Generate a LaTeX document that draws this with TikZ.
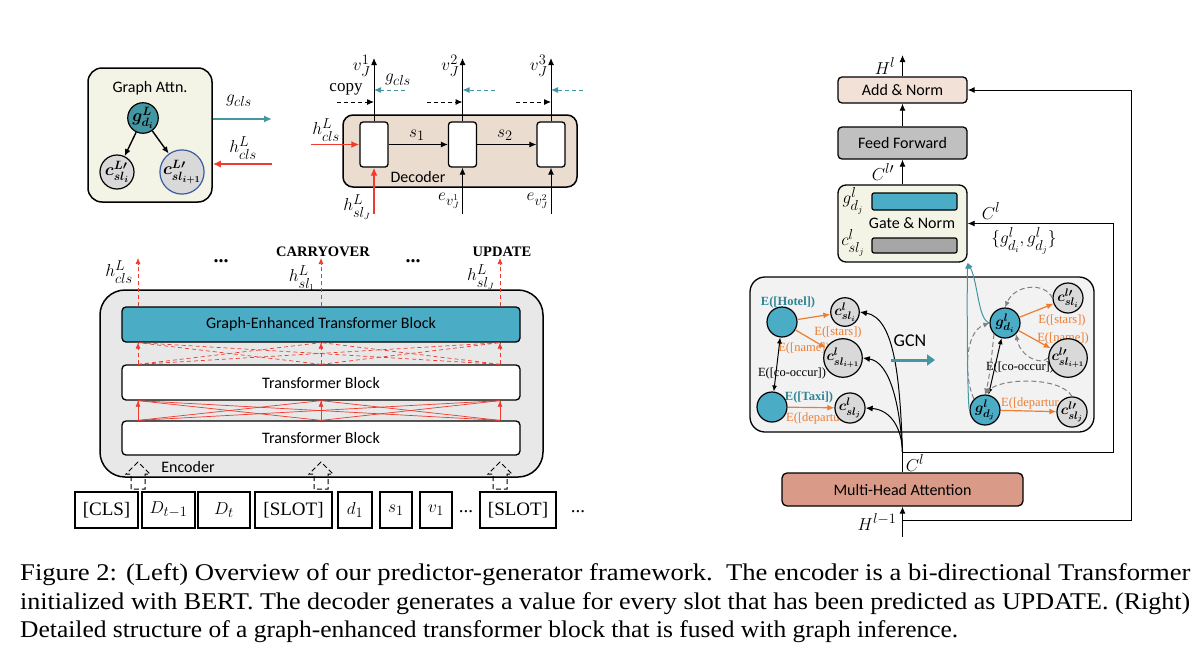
\documentclass[tikz,border=0pt]{standalone}
\usepackage{fontspec}
\usepackage{amsmath}
\usepackage{graphicx}
\setmainfont{Liberation Serif}
\newfontfamily\calib{Carlito}
\usetikzlibrary{arrows.meta,calc}
\definecolor{cream}{HTML}{F4F4E6}
\definecolor{tealn}{HTML}{4297A3}
\definecolor{tealtxt}{HTML}{2E8595}
\definecolor{decfill}{HTML}{EBDCD0}
\definecolor{encfill}{HTML}{E8E8E8}
\definecolor{geblue}{HTML}{4BACC6}
\definecolor{addfill}{HTML}{F2E1D6}
\definecolor{fffill}{HTML}{C0C0C0}
\definecolor{bargray}{HTML}{A6A6A6}
\definecolor{gcnfill}{HTML}{F2F2F2}
\definecolor{orng}{HTML}{ED7D31}
\definecolor{mhafill}{HTML}{D99A88}
\definecolor{redl}{HTML}{F03A2E}
\definecolor{nodegray}{HTML}{D9D9D9}
\definecolor{bluering}{HTML}{3A5BA0}
\tikzset{
  blk/.style={draw, line width=1.3pt, rounded corners=4pt, inner sep=0pt},
  lbl/.style={font=\calib\fontsize{16}{18}\selectfont, inner sep=0pt},
  mth/.style={font=\fontsize{19}{21}\selectfont, inner sep=0pt},
  nmth/.style={font=\fontsize{18}{20}\selectfont, inner sep=0pt},
  smth/.style={font=\fontsize{15}{17}\selectfont, inner sep=0pt},
  arr/.style={line width=1pt, -{Latex[length=7pt,width=6pt]}},
  darr/.style={line width=1pt, dash pattern=on 4pt off 3pt, -{Latex[length=7pt,width=6pt]}},
  tdarr/.style={darr, draw=tealn},
  rarr/.style={draw=redl, line width=1.8pt, -{Latex[length=8pt,width=7pt]}},
  rthin/.style={draw=redl, line width=0.7pt},
  rdash/.style={draw=redl, line width=0.7pt, dash pattern=on 4pt off 3pt},
  onode/.style={circle, draw, line width=1.2pt, inner sep=0pt},
  cell/.style={draw, line width=1.3pt, rounded corners=3pt, fill=white, minimum width=28pt, minimum height=45pt, inner sep=0pt},
  tok/.style={draw, line width=1.6pt, minimum height=36pt, inner sep=0pt, font=\fontsize{19}{21}\selectfont},
  oarr/.style={draw=orng, line width=1.2pt, -{Latex[length=7pt,width=6pt]}},
  otxt/.style={text=orng, font=\fontsize{12.5}{14}\selectfont, inner sep=0pt},
  ttxt/.style={text=tealtxt, font=\bfseries\fontsize{12.5}{14}\selectfont, inner sep=0pt},
  btxt/.style={font=\fontsize{12.5}{14}\selectfont, inner sep=0pt},
  gdash/.style={draw=gray, line width=1pt, dash pattern=on 5pt off 3pt, -{Latex[length=6pt,width=5pt]}},
  dbl/.style={line width=1pt, {Latex[length=6pt,width=5pt]}-{Latex[length=6pt,width=5pt]}},
  tarr/.style={draw=tealn, line width=1pt, -{Latex[length=6pt,width=5pt]}},
  captxt/.style={anchor=west, inner sep=0pt, font=\fontsize{24}{28}\selectfont},
  dots/.style={font=\bfseries\fontsize{20}{22}\selectfont, inner sep=0pt},
}
\begin{document}
\begin{tikzpicture}[x=1pt,y=-1pt]
\useasboundingbox[fill=white] (0,0) rectangle (1200,656);

% ===== Graph attention (top left)
\node[draw, line width=1.5pt, rounded corners=14pt, fill=cream, minimum width=124pt, minimum height=134pt] (ga) at (150,135) {};
\node[lbl] (gatitle) at (150,88) {Graph Attn.};
\node[onode, fill=tealn, minimum size=30pt, nmth] (gtop) at (143,118) {$\boldsymbol{g^L_{d_i}}$};
\node[onode, fill=nodegray, minimum size=34pt, nmth] (gl) at (117,172) {$\boldsymbol{c^{L\prime}_{sl_i}}$};
\node[onode, draw=bluering, fill=nodegray, minimum size=34pt, nmth] (gr) at (182,172) {$\boldsymbol{c^{L\prime}_{sl_{i+1}}}$};
\draw[arr, line width=1.4pt] (gtop) -- (gl);
\draw[arr, line width=1.4pt] (gtop) -- (gr);
\coordinate (gclsout) at (272,119);
\coordinate (hclsin) at (272,164);
\draw[line width=1.6pt, draw=tealn, -{Latex[length=8pt,width=7pt]}] (ga.east |- gclsout) -- (gclsout);
\draw[rarr] (hclsin) -- (ga.east |- hclsin);
\node[mth] (gclslbl) at (239,101) {$g_{cls}$};
\node[mth] (hclslbl) at (243,148) {$h^L_{cls}$};

% ===== Decoder
\node[draw, line width=1.5pt, rounded corners=10pt, fill=decfill, minimum width=234pt, minimum height=72pt] (dec) at (460,151) {};
\node[lbl] (declbl) at (418,177) {Decoder};
\node[cell] (c1) at (374,144.5) {};
\node[cell] (c2) at (462.5,144.5) {};
\node[cell] (c3) at (551,144.5) {};
\coordinate (o1) at (374,58);
\coordinate (o2) at (462.5,58);
\coordinate (o3) at (551,58);
\draw[arr] (c1.north) -- (o1);
\draw[arr] (c2.north) -- (o2);
\draw[arr] (c3.north) -- (o3);
\node[mth, anchor=east] (v1) at (371,66) {$v_J^1$};
\node[mth, anchor=east] (v2) at (459.5,66) {$v_J^2$};
\node[mth, anchor=east] (v3) at (548,66) {$v_J^3$};
\coordinate (k1) at (337,102);
\coordinate (k2) at (427,102);
\coordinate (k3) at (516,102);
\coordinate (t1) at (405,90);
\coordinate (t2) at (495,90);
\coordinate (t3) at (583,90);
\draw[darr] (k1) -- (c1.north |- k1);
\draw[darr] (k2) -- (c2.north |- k2);
\draw[darr] (k3) -- (c3.north |- k3);
\draw[tdarr] (t1) -- (c1.north |- t1);
\draw[tdarr] (t2) -- (c2.north |- t2);
\draw[tdarr] (t3) -- (c3.north |- t3);
\node[font=\fontsize{17}{19}\selectfont, inner sep=0pt] (copylbl) at (346,89) {copy};
\node[mth] (gcls2) at (398,80) {$g_{cls}$};
\draw[arr] (c1) -- (c2);
\draw[arr] (c2) -- (c3);
\node[mth] (s1l) at (417,135) {$s_1$};
\node[mth] (s2l) at (505,135) {$s_2$};
\coordinate (hc) at (311,144.5);
\draw[rarr] (hc) -- (c1.west);
\node[mth] (hcl) at (326,130) {$h^L_{cls}$};
\coordinate (hs) at (374,214);
\draw[rarr] (hs) -- (c1.south);
\node[mth, anchor=east] (hsl) at (371,207) {$h^L_{sl_J}$};
\coordinate (e1) at (462.5,214);
\coordinate (e2) at (551,214);
\draw[arr] (e1) -- (c2.south);
\draw[arr] (e2) -- (c3.south);
\node[mth, anchor=east] (e1l) at (460,201) {$e_{v_J^1}$};
\node[mth, anchor=east] (e2l) at (548.5,201) {$e_{v_J^2}$};

% ===== Encoder
\node[draw, line width=1.5pt, rounded corners=25pt, fill=encfill, minimum width=443pt, minimum height=187pt] (enc) at (321.5,383.5) {};
\node[blk, lbl, fill=geblue, minimum width=398pt, minimum height=35pt] (ge) at (321,324.5) {Graph-Enhanced Transformer Block};
\node[blk, lbl, fill=white, minimum width=398pt, minimum height=35pt] (tb2) at (321,382.5) {Transformer Block};
\node[blk, lbl, fill=white, minimum width=398pt, minimum height=34pt] (tb1) at (321,438) {Transformer Block};
\coordinate (ca) at (138,0);
\coordinate (cb) at (321,0);
\coordinate (cc) at (500,0);
\foreach \s in {ca,cb,cc}{\foreach \t in {ca,cb,cc}{
  \draw[rthin] (tb1.north -| \s) -- (tb2.south -| \t);
  \draw[rdash] (tb2.north -| \s) -- (ge.south -| \t);
}}
\foreach \s in {ca,cb,cc}{
  \draw[rthin, -{Latex[length=6pt,width=5pt]}] (tb1.north -| \s) -- (tb2.south -| \s);
  \draw[rdash, -{Latex[length=6pt,width=5pt]}] (tb2.north -| \s) -- (ge.south -| \s);
}
\coordinate (ta) at (138,258);
\coordinate (tb) at (321,258);
\coordinate (tc) at (500,258);
\draw[rdash, -{Latex[length=6pt,width=5pt]}] (ge.north -| ta) -- (ta);
\draw[rdash, -{Latex[length=6pt,width=5pt]}] (ge.north -| tb) -- (tb);
\draw[rdash, -{Latex[length=6pt,width=5pt]}] (ge.north -| tc) -- (tc);
\node[mth] (hL1) at (119,272) {$h^L_{cls}$};
\node[mth] (hL2) at (302,278) {$h^L_{sl_1}$};
\node[mth] (hL3) at (481,277) {$h^L_{sl_J}$};
\node[font=\bfseries\fontsize{14.5}{16}\selectfont, inner sep=0pt] (carry) at (323,252) {CARRYOVER};
\node[font=\bfseries\fontsize{14.5}{16}\selectfont, inner sep=0pt] (upd) at (502,252) {UPDATE};
\node[dots] (dd1) at (221,261) {...};
\node[dots] (dd2) at (413,261) {...};
\node[lbl] (enclbl) at (188,467) {Encoder};
\foreach \cx in {138,321,500}{
  \draw[line width=1pt, dash pattern=on 5pt off 3pt] (\cx-7,489) -- (\cx-7,474) -- (\cx-12,474) -- (\cx,462) -- (\cx+12,474) -- (\cx+7,474) -- (\cx+7,489) -- cycle;
}

% ===== Tokens
\node[tok, minimum width=63pt] (tkcls) at (106.5,510) {[CLS]};
\node[tok, minimum width=53pt] (tkd1) at (168.5,510) {$D_{t-1}$};
\node[tok, minimum width=52pt] (tkd2) at (224,510) {$D_t$};
\node[tok, minimum width=77pt] (tkslot1) at (293.5,510) {[SLOT]};
\node[tok, minimum width=34pt] (tkdd) at (355,510) {$d_1$};
\node[tok, minimum width=32pt] (tkss) at (396,510) {$s_1$};
\node[tok, minimum width=32pt] (tkvv) at (436,510) {$v_1$};
\node[font=\fontsize{19}{21}\selectfont, inner sep=0pt] (tkdots1) at (466,512) {...};
\node[tok, minimum width=76pt] (tkslot2) at (518,510) {[SLOT]};
\node[font=\fontsize{19}{21}\selectfont, inner sep=0pt] (tkdots2) at (578,512) {...};

% ===== Right: transformer block
\node[blk, lbl, fill=addfill, minimum width=129pt, minimum height=26pt] (addn) at (902.5,90) {Add \& Norm};
\node[blk, lbl, fill=fffill, minimum width=129pt, minimum height=32pt] (ff) at (902.5,143) {Feed Forward};
\node[blk, rounded corners=8pt, fill=cream, minimum width=129pt, minimum height=77pt] (gate) at (902.5,223.5) {};
\node[lbl] (gatelbl) at (912,223) {Gate \& Norm};
\node[draw, line width=1.2pt, rounded corners=2pt, fill=geblue, minimum width=85pt, minimum height=17pt, inner sep=0pt] (bbar) at (914.5,201.5) {};
\node[draw, line width=1.2pt, rounded corners=2pt, fill=bargray, minimum width=85pt, minimum height=15pt, inner sep=0pt] (gbar) at (914.5,245.5) {};
\node[mth] (gdjl) at (853,201) {$g^l_{d_j}$};
\node[mth] (csjl) at (853,243) {$c^l_{sl_j}$};
\coordinate (hltop) at (902.5,55);
\draw[arr] (addn.north) -- (hltop);
\node[mth] (hll) at (885,66) {$H^l$};
\draw[arr] (ff.north) -- (addn.south);
\draw[arr] (gate.north) -- (ff.south);
\node[mth] (clp) at (883,172) {$C^{l\prime}$};

% GCN box
\node[draw, line width=1.3pt, rounded corners=15pt, fill=gcnfill, minimum width=344pt, minimum height=155pt] (gcn) at (922,354.5) {};
\node[blk, lbl, rounded corners=5pt, fill=mhafill, minimum width=241pt, minimum height=33pt] (mha) at (902.5,489.5) {Multi-Head Attention};

% C^l routing
\coordinate (cbr) at (902.5,452);
\coordinate (cr) at (1113,452);
\draw[line width=1pt] (mha.north) -- (cbr);
\draw[arr] (cbr) -- (cr) -- (cr |- gate.east) -- (gate.east);
\node[mth] (cl1) at (915,463) {$C^l$};
\node[mth] (cl2) at (991,211) {$C^l$};
\node[mth] (gset) at (1024,241) {$\{g^l_{d_i}, g^l_{d_j}\}$};

% H^{l-1}
\coordinate (hlm) at (902.5,537);
\draw[arr] (hlm) -- (mha.south);
\coordinate (hl1) at (902.5,520);
\coordinate (hr) at (1131,520);
\draw[arr] (hl1) -- (hr) -- (hr |- addn.east) -- (addn.east);
\node[mth] (hlm1) at (877,522) {$H^{l-1}$};

% left graph labels (under nodes)
\node[ttxt] (lhot) at (788,302) {E([Hotel])};
\node[ttxt] (ltax) at (809,397) {E([Taxi])};
\node[otxt] (lstar) at (838,332) {E([stars])};
\node[otxt] (lname) at (804,348) {E([name])};
\node[btxt] (lco) at (792,373) {E([co-occur])};
\node[otxt, anchor=west] (ldep) at (786,418) {E([departu};

\node[onode, fill=geblue, minimum size=30pt] (hotel) at (782,322) {};
\node[onode, fill=geblue, minimum size=30pt] (taxi) at (772,407) {};
\node[onode, fill=nodegray, minimum size=27pt, smth] (lc1) at (845,312) {$\boldsymbol{c^l_{sl_i}}$};
\node[onode, fill=nodegray, minimum size=27pt, smth] (lc2) at (843,358) {$\boldsymbol{c^l_{sl_{i+1}}}$};
\node[onode, fill=nodegray, minimum size=27pt, smth] (lc3) at (850,408) {$\boldsymbol{c^l_{sl_j}}$};
\draw[oarr] (hotel) -- (lc1);
\draw[oarr] (hotel) -- (lc2);
\draw[oarr] (taxi) -- (lc3);
\draw[dbl] (hotel) -- (taxi);
\draw[arr] (cbr) .. controls (900,380) and (895,318) .. (lc1.east);
\draw[arr] (cbr) .. controls (900,405) and (890,362) .. (lc2.east);
\draw[arr] (cbr) .. controls (902,430) and (892,410) .. (lc3.east);

% GCN arrow
\node[lbl, font=\calib\fontsize{18}{20}\selectfont] (gcnl) at (910,341) {GCN};
\coordinate (gcna) at (891,360);
\coordinate (gcnb) at (935,360);
\draw[draw=tealn, line width=3pt, -{Triangle[length=8pt,width=11pt]}] (gcna) -- (gcnb);

% right graph labels
\node[otxt] (rstar) at (1062,320) {E([stars])};
\node[otxt] (rname) at (1063,338) {E([name])};
\node[btxt] (rco) at (1020,367) {E([co-occur])};
\node[otxt, anchor=west] (rdep) at (1001,403) {E([departur};

\node[onode, fill=geblue, minimum size=30pt, smth] (gdi) at (1005,323) {$\boldsymbol{g^l_{d_i}}$};
\node[onode, fill=geblue, minimum size=30pt, smth] (gdj) at (985,410) {$\boldsymbol{g^l_{d_j}}$};
\node[onode, fill=nodegray, minimum size=30pt, smth] (rc1) at (1068,298) {$\boldsymbol{c^{l\prime}_{sl_i}}$};
\node[onode, fill=nodegray, minimum size=30pt, smth] (rc2) at (1068,358) {$\boldsymbol{c^{l\prime}_{sl_{i+1}}}$};
\node[onode, fill=nodegray, minimum size=30pt, smth] (rc3) at (1072,412) {$\boldsymbol{c^{l\prime}_{sl_j}}$};
\draw[oarr] (gdi) -- (rc1);
\draw[oarr] (gdi) -- (rc2);
\draw[oarr] (gdj) -- (rc3);
\draw[dbl] (gdi) -- (gdj);
\draw[gdash] (rc1.west) .. controls (1045,282) and (1015,284) .. (gdi.north);
\draw[gdash] (rc2.west) .. controls (1040,366) and (1020,356) .. (gdi.south east);
\draw[gdash] (rc3.north) .. controls (1060,376) and (1000,378) .. (gdj.north);
\draw[gdash] (gdj.north west) .. controls (964,378) and (964,332) .. (gdi.west);
\draw[gdash] (gdi.south west) .. controls (992,352) and (990,376) .. (gdj.north);
\draw[tarr] (gdi.west) .. controls (978,320) and (978,282) .. (gate.south east);
\draw[tarr] (gdj.west) .. controls (967,400) and (967,282) .. (gate.south east);

% ===== Caption
\node[captxt] (cap1) at (20,575) {\resizebox{1170pt}{\height}{Figure 2: (Left) Overview of our predictor-generator framework.\ \ The encoder is a bi-directional Transformer}};
\node[captxt] (cap2) at (20,604) {\resizebox{1170pt}{\height}{initialized with BERT. The decoder generates a value for every slot that has been predicted as UPDATE. (Right)}};
\node[captxt] (cap3) at (20,632) {\resizebox{938pt}{\height}{Detailed structure of a graph-enhanced transformer block that is fused with graph inference.}};
\end{tikzpicture}
\end{document}
